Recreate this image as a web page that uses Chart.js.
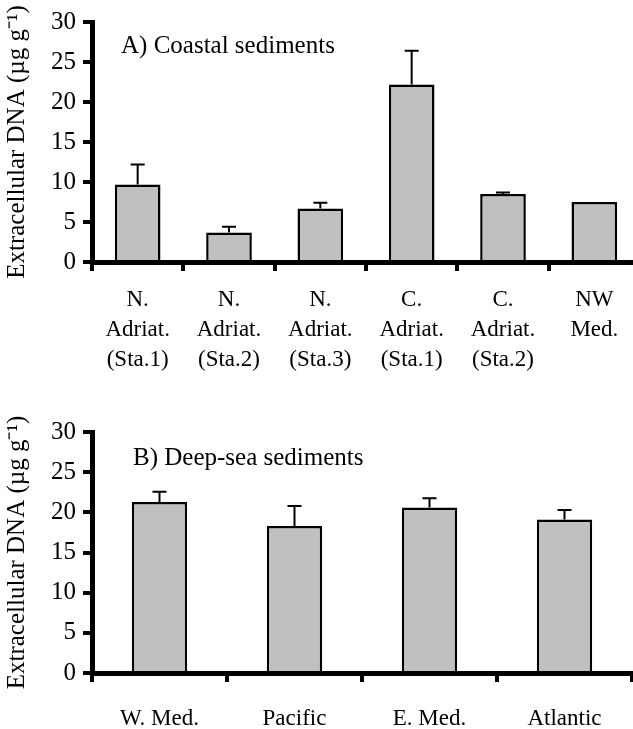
<!DOCTYPE html>
<html>
<head>
<meta charset="utf-8">
<script src="https://cdn.jsdelivr.net/npm/chart.js@4.4.0/dist/chart.umd.min.js"></script>
<style>
  html, body { margin: 0; padding: 0; background: #fff; overflow: hidden; width: 633px; height: 729px; }
  .box { position: absolute; left: 0; }
</style>
</head>
<body>
<div class="box" style="top:0; width:648px; height:380px"><canvas id="chartA"></canvas></div>
<div class="box" style="top:400px; width:648px; height:329px"><canvas id="chartB"></canvas></div>
<script>
// A) coastal sediments
const coastalLabels = [
  ['N.', 'Adriat.', '(Sta.1)'],
  ['N.', 'Adriat.', '(Sta.2)'],
  ['N.', 'Adriat.', '(Sta.3)'],
  ['C.', 'Adriat.', '(Sta.1)'],
  ['C.', 'Adriat.', '(Sta.2)'],
  ['NW', 'Med.']
];
const coastalValues = [9.7, 3.7, 6.7, 22.2, 8.5, 7.5];
const coastalErrors = [2.5, 0.7, 0.7, 4.2, 0.2, 0];

// B) deep-sea sediments
const deepLabels = ['W. Med.', 'Pacific', 'E. Med.', 'Atlantic'];
const deepValues = [21.3, 18.3, 20.6, 19.1];
const deepErrors = [1.25, 2.5, 1.15, 1.2];

const yTicks = [0, 5, 10, 15, 20, 25, 30];
const yTitle = 'Extracellular DNA (\u00b5g g\u207b\u00b9)';

const serif = "'Liberation Serif', 'Times New Roman', serif";

// upper error bars, drawn from the bar top
const errorBars = {
  id: 'errorBars',
  afterDatasetsDraw(chart, args, opts) {
    const ctx = chart.ctx;
    const meta = chart.getDatasetMeta(0);
    const yScale = chart.scales.y;
    const vals = chart.data.datasets[0].data;
    ctx.save();
    ctx.strokeStyle = '#000';
    ctx.lineWidth = 2;
    meta.data.forEach(function(bar, i) {
      const e = opts.errors[i];
      if (!e) return;
      const top = yScale.getPixelForValue(vals[i] + e);
      ctx.beginPath();
      ctx.moveTo(bar.x, bar.y);
      ctx.lineTo(bar.x, top);
      ctx.moveTo(bar.x - opts.cap, top);
      ctx.lineTo(bar.x + opts.cap, top);
      ctx.stroke();
    });
    ctx.restore();
  }
};

// panel caption inside the plot area
const panelLabel = {
  id: 'panelLabel',
  afterDraw(chart, args, opts) {
    const ctx = chart.ctx;
    ctx.save();
    ctx.fillStyle = '#000';
    ctx.font = opts.size + 'px ' + serif;
    ctx.textBaseline = 'middle';
    ctx.fillText(opts.text, chart.chartArea.left + opts.dx, chart.chartArea.top + opts.dy);
    ctx.restore();
  }
};

function makeChart(id, labels, values, errors, o) {
  return new Chart(document.getElementById(id), {
    type: 'bar',
    data: {
      labels: labels,
      datasets: [{
        data: values,
        backgroundColor: '#c0c0c0',
        borderColor: '#000',
        borderWidth: 2.5,
        barPercentage: o.barPct,
        categoryPercentage: 1
      }]
    },
    options: {
      responsive: true,
      maintainAspectRatio: false,
      animation: false,
      layout: { padding: { top: o.top, right: o.right, left: 0, bottom: 0 } },
      plugins: {
        legend: { display: false },
        tooltip: { enabled: false },
        errorBars: { errors: errors, cap: 7 },
        panelLabel: { text: o.caption, dx: o.capDx, dy: o.capDy, size: 25 }
      },
      scales: {
        x: {
          grid: { offset: true, drawOnChartArea: false, color: '#000', lineWidth: 4, tickLength: 9 },
          border: { color: '#000', width: 5 },
          ticks: {
            color: '#000',
            font: { family: serif, size: 23, lineHeight: 1.3 },
            padding: o.xPad,
            maxRotation: 0,
            autoSkip: false
          },
          afterFit: function(s) { s.height = o.xHeight; }
        },
        y: {
          min: 0,
          max: 30,
          afterBuildTicks: function(s) { s.ticks = yTicks.map(v => ({ value: v })); },
          grid: { drawOnChartArea: false, color: '#000', lineWidth: 4, tickLength: 9 },
          border: { color: '#000', width: 5 },
          ticks: { color: '#000', font: { family: serif, size: 25 }, padding: 7 },
          title: {
            display: true,
            text: yTitle,
            color: '#000',
            font: { family: serif, size: 25 },
            padding: { top: 2, bottom: 0 }
          },
          afterFit: function(s) { s.width = 92; }
        }
      }
    },
    plugins: [errorBars, panelLabel]
  });
}

makeChart('chartA', coastalLabels, coastalValues, coastalErrors, {
  barPct: 0.5, top: 21, right: 8, xHeight: 118, xPad: 14,
  caption: 'A) Coastal sediments', capDx: 29, capDy: 24
});

makeChart('chartB', deepLabels, deepValues, deepErrors, {
  barPct: 0.41, top: 32, right: 16, xHeight: 56, xPad: 22,
  caption: 'B) Deep-sea sediments', capDx: 41, capDy: 26
});
</script>
</body>
</html>
